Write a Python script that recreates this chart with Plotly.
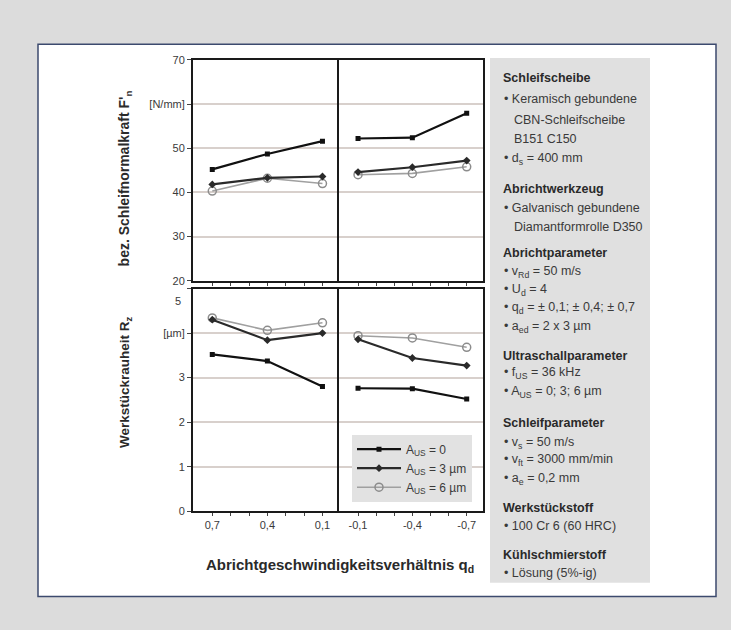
import plotly.graph_objects as go

# ---------------- data ----------------
cats_left = ["0,7", "0,4", "0,1"]
cats_right = ["-0,1", "-0,4", "-0,7"]
series_names = ["A<sub>US</sub> = 0", "A<sub>US</sub> = 3 µm", "A<sub>US</sub> = 6 µm"]

force_a0_left = [45.2, 48.7, 51.6]
force_a0_right = [52.2, 52.4, 57.9]
force_a3_left = [41.8, 43.3, 43.6]
force_a3_right = [44.6, 45.7, 47.2]
force_a6_left = [40.3, 43.2, 42.0]
force_a6_right = [44.0, 44.3, 45.8]

rz_a0_left = [3.52, 3.37, 2.80]
rz_a0_right = [2.76, 2.75, 2.52]
rz_a3_left = [4.30, 3.84, 4.00]
rz_a3_right = [3.86, 3.44, 3.27]
rz_a6_left = [4.34, 4.06, 4.23]
rz_a6_right = [3.94, 3.89, 3.68]

force_ticks = [20, 30, 40, 50, 60, 70]
force_ticktext = ["20", "30", "40", "50", "[N/mm]", "70"]
rz_ticks = [0, 1, 2, 3, 4, 5]
rz_ticktext = ["0", "1", "2", "3", "[µm]", ""]

info_lines = [
    ("Schleifscheibe", "h"),
    ("• Keramisch gebundene", "b"),
    ("CBN-Schleifscheibe", "c"),
    ("B151 C150", "c"),
    ("• d<sub>s</sub> = 400 mm", "b"),
    ("Abrichtwerkzeug", "h"),
    ("• Galvanisch gebundene", "b"),
    ("Diamantformrolle D350", "c"),
    ("Abrichtparameter", "h"),
    ("• v<sub>Rd</sub> = 50 m/s", "b"),
    ("• U<sub>d</sub> = 4", "b"),
    ("• q<sub>d</sub> = ± 0,1; ± 0,4; ± 0,7", "b"),
    ("• a<sub>ed</sub> = 2 x 3 µm", "b"),
    ("Ultraschallparameter", "h"),
    ("• f<sub>US</sub> = 36 kHz", "b"),
    ("• A<sub>US</sub> = 0; 3; 6 µm", "b"),
    ("Schleifparameter", "h"),
    ("• v<sub>s</sub> = 50 m/s", "b"),
    ("• v<sub>ft</sub> = 3000 mm/min", "b"),
    ("• a<sub>e</sub> = 0,2 mm", "b"),
    ("Werkstückstoff", "h"),
    ("• 100 Cr 6 (60 HRC)", "b"),
    ("Kühlschmierstoff", "h"),
    ("• Lösung (5%-ig)", "b"),
]

# ---------------- layout helpers ----------------
W, H = 731, 630
def px(x):
    return x / W
def py(y):
    return 1 - y / H

info_y = [73, 95, 116, 136, 156, 187, 206, 225, 252, 271, 290, 308, 327,
          357, 374, 393, 425, 445, 463, 482, 512, 530, 560, 578]

FONT = "Liberation Sans, Arial, sans-serif"
TXT = "#3a3a3a"

styles = [
    dict(line=dict(color="#111111", width=2.2),
         marker=dict(symbol="square", size=5, color="#111111")),
    dict(line=dict(color="#2a2a2a", width=2.2),
         marker=dict(symbol="diamond", size=6, color="#2a2a2a")),
    dict(line=dict(color="#a0a0a0", width=1.6),
         marker=dict(symbol="circle-open", size=8, color="#8c8c8c",
                     line=dict(width=1.5))),
]

fig = go.Figure()

panels = [
    ("x", "y", [force_a0_left, force_a3_left, force_a6_left], len(cats_left), True),
    ("x2", "y2", [force_a0_right, force_a3_right, force_a6_right], len(cats_right), False),
    ("x3", "y3", [rz_a0_left, rz_a3_left, rz_a6_left], len(cats_left), False),
    ("x4", "y4", [rz_a0_right, rz_a3_right, rz_a6_right], len(cats_right), False),
]

for xa, ya, vals, n, show in panels:
    for i in [2, 1, 0]:
        fig.add_trace(go.Scatter(
            x=list(range(n)), y=vals[i], xaxis=xa, yaxis=ya,
            mode="lines+markers", name=series_names[i],
            showlegend=show, legendrank=i + 1,
            **styles[i]))

common_x = dict(range=[-0.35, 2.3], showgrid=False, zeroline=False,
                showline=True, linecolor="#1a1a1a", linewidth=2, mirror=True,
                ticks="outside", ticklen=3, tickcolor="#444", tickwidth=1,
                tickvals=[0, 1, 2],
                minor=dict(tickvals=[k / 3 for k in range(7)], ticks="outside",
                           ticklen=3, tickcolor="#444", tickwidth=1),
                tickfont=dict(family=FONT, size=11, color=TXT), fixedrange=True)
common_y = dict(showgrid=True, gridcolor="#d8d0cc", gridwidth=1.6, zeroline=False,
                showline=True, linecolor="#1a1a1a", linewidth=2,
                tickfont=dict(family=FONT, size=11, color=TXT), fixedrange=True)

xL = [px(193), px(339)]
xR = [px(339), px(483)]
yT = [py(280), py(55)]
yB = [py(515), py(288)]

fig.update_layout(
    width=W, height=H,
    margin=dict(l=0, r=0, t=0, b=0),
    paper_bgcolor="#dcdcdc", plot_bgcolor="white",
    xaxis=dict(common_x, domain=xL, anchor="y", showticklabels=False),
    xaxis2=dict(common_x, domain=xR, anchor="y2", showticklabels=False),
    xaxis3=dict(common_x, domain=xL, anchor="y3", ticktext=cats_left),
    xaxis4=dict(common_x, domain=xR, anchor="y4", ticktext=cats_right),
    yaxis=dict(common_y, domain=yT, anchor="x", range=[20, 70], mirror=False,
               tickvals=force_ticks, ticktext=force_ticktext,
               ticks="outside", ticklen=4, tickcolor="#444"),
    yaxis2=dict(common_y, domain=yT, anchor="x2", range=[20, 70],
                mirror=True, tickvals=force_ticks, showticklabels=False, ticks=""),
    yaxis3=dict(common_y, domain=yB, anchor="x3", range=[0, 5], mirror=False,
                tickvals=rz_ticks, ticktext=rz_ticktext,
                ticks="outside", ticklen=4, tickcolor="#444"),
    yaxis4=dict(common_y, domain=yB, anchor="x4", range=[0, 5],
                mirror=True, tickvals=rz_ticks, showticklabels=False, ticks=""),
    legend=dict(x=px(352), y=py(437), xanchor="left", yanchor="top",
                bgcolor="#e2e2e2", font=dict(family=FONT, size=12, color=TXT),
                traceorder="normal", tracegroupgap=0, itemwidth=44,
                borderwidth=0),
    showlegend=True,
)

shapes = [
    # white card with border
    dict(type="rect", xref="paper", yref="paper", x0=px(38), x1=px(716),
         y0=py(602), y1=py(39), fillcolor="white",
         line=dict(color="#3c4a6e", width=1.5), layer="below"),
    # info box
    dict(type="rect", xref="paper", yref="paper", x0=px(490), x1=px(650),
         y0=py(588), y1=py(53), fillcolor="#e0e0e0",
         line=dict(width=0), layer="below"),
]
fig.update_layout(shapes=shapes)

ann = []
for (txt, kind), yv in zip(info_lines, info_y):
    if kind == "h":
        ann.append(dict(text="<b>" + txt + "</b>", x=px(501), y=py(yv),
                        font=dict(family=FONT, size=12.5, color="#2a2a2a")))
    elif kind == "b":
        ann.append(dict(text=txt, x=px(502), y=py(yv),
                        font=dict(family=FONT, size=12.5, color=TXT)))
    else:
        ann.append(dict(text=txt, x=px(512), y=py(yv),
                        font=dict(family=FONT, size=12.5, color=TXT)))
for a in ann:
    a.update(xref="paper", yref="paper", xanchor="left", yanchor="middle",
             showarrow=False)

ann += [
    dict(text="<b>bez. Schleifnormalkraft F'<sub>n</sub></b>", textangle=-90,
         x=px(125), y=py(84), xanchor="center", yanchor="top",
         font=dict(family=FONT, size=14, color="#2a2a2a")),
    dict(text="<b>Werkstückrauheit R<sub>z</sub></b>", textangle=-90,
         x=px(125), y=py(314), xanchor="center", yanchor="top",
         font=dict(family=FONT, size=13.5, color="#2a2a2a")),
    dict(text="<b>Abrichtgeschwindigkeitsverhältnis q<sub>d</sub></b>",
         x=px(340), y=py(570), xanchor="center", yanchor="middle",
         font=dict(family=FONT, size=15, color="#2a2a2a")),
    dict(text="5", x=px(183), y=py(301), xanchor="right", yanchor="middle",
         font=dict(family=FONT, size=11, color=TXT)),
]
for a in ann[-4:]:
    a.update(xref="paper", yref="paper", showarrow=False)

fig.update_layout(annotations=ann)

fig.write_html("out.html")
